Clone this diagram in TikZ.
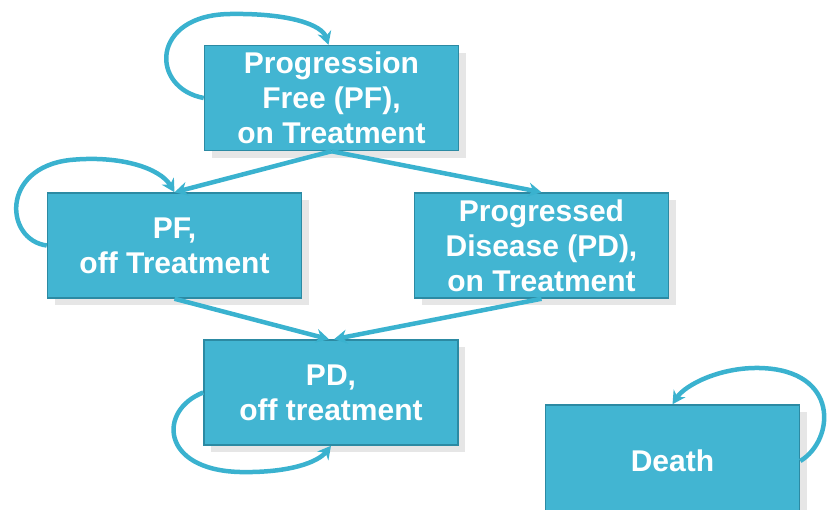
\documentclass[tikz,border=0pt]{standalone}
\usepackage{fontspec}
\setmainfont{Liberation Sans}
\usepackage{tikz}
\usetikzlibrary{arrows.meta,shapes,positioning,shadows}
\definecolor{boxfill}{HTML}{42B5D2}
\definecolor{boxline}{HTML}{2C8AA3}
\definecolor{arrowcol}{HTML}{3AB2CF}
\tikzstyle{every node}=[font=\fontsize{30}{35}\selectfont\bfseries, text=white, align=center]

\begin{document}
\begin{tikzpicture}[x=1pt,y=-1pt,
        state/.style={
                draw=boxline,
                line width=1.5pt,
                fill=boxfill,
                minimum width=254pt,
                minimum height=105pt,
                inner sep=0pt,
                drop shadow={shadow xshift=7pt, shadow yshift=-7pt, opacity=0.2, fill=gray}
            },
        trans/.style={
                draw=arrowcol,
                line width=4.5pt,
                -{Stealth[length=13pt,width=14pt]}
            },
    ]
    \useasboundingbox (0,0) rectangle (829,509);
    % States
    \node[state] (pfon) at (331.5,98) {Progression\\Free (PF),\\on Treatment};
    \node[state] (pfoff) at (174.5,245.5) {PF,\\off Treatment};
    \node[state] (pdon) at (541.5,245.5) {Progressed\\Disease (PD),\\on Treatment};
    \node[state] (pdoff) at (331,392.5) {PD,\\off treatment};
    \node[state, minimum height=112pt] (death) at (672.5,461) {Death};
    % Transitions
    \draw[trans] (pfon.south) -- (pfoff.north);
    \draw[trans] (pfon.south) -- (pdon.north);
    \draw[trans] (pfoff.south) -- ([xshift=-2pt]pdoff.north);
    \draw[trans] (pdon.south) -- ([xshift=3pt]pdoff.north);
    % Self loops
    \draw[trans] (pfon.west) .. controls (150,88) and (150,15) .. (230,14)
        .. controls (290,13) and (322,25) .. ([xshift=-3pt]pfon.north);
    \draw[trans] (pfoff.west) .. controls (5,240) and (0,168) .. (70,160)
        .. controls (120,155) and (160,168) .. (pfoff.north);
    \draw[trans] (pdoff.west) .. controls (158,410) and (160,470) .. (240,472)
        .. controls (290,473) and (318,462) .. (pdoff.south);
    \draw[trans] (death.east) .. controls (835,440) and (840,370) .. (760,368)
        .. controls (720,367) and (685,385) .. (death.north);
\end{tikzpicture}
\end{document}
